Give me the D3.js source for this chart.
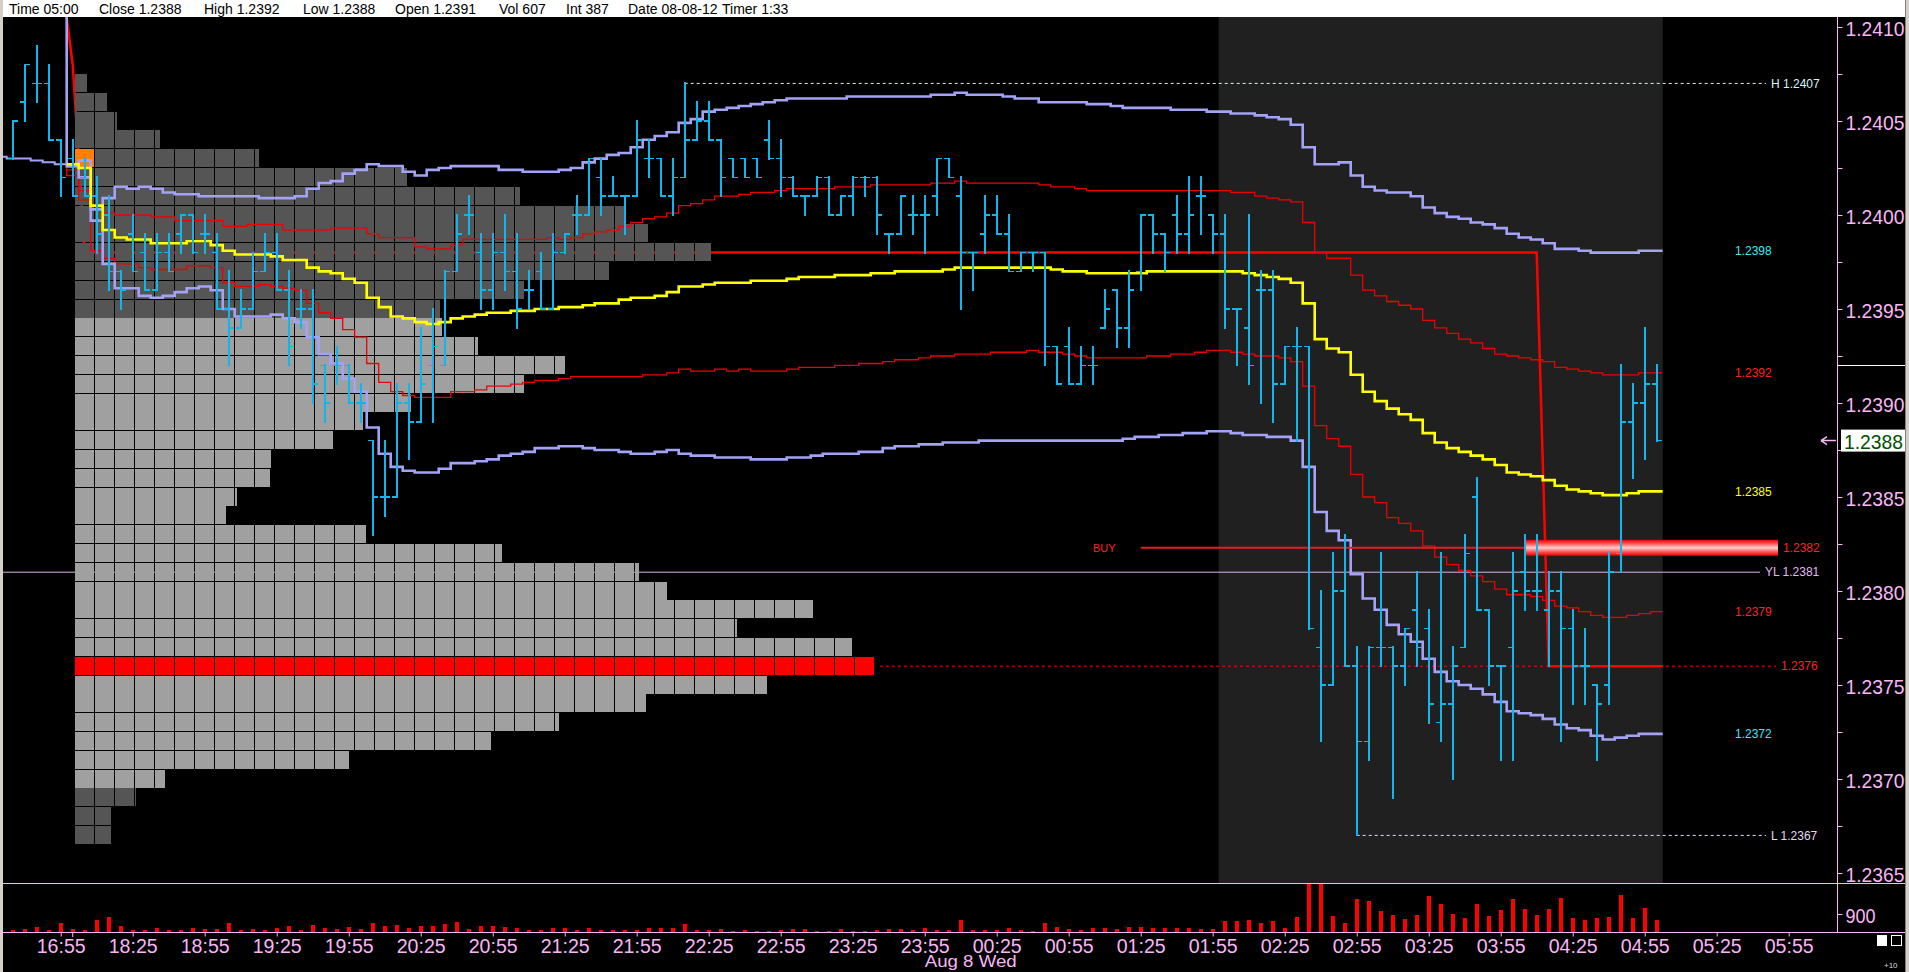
<!DOCTYPE html>
<html>
<head>
<meta charset="utf-8">
<title>Aug 8 - 5 min</title>
<script src="https://cdn.jsdelivr.net/npm/d3@7/dist/d3.min.js"></script>
<style>
  body { margin: 0; background: #000; overflow: hidden; }
  svg { display: block; font-family: "Liberation Sans", Arial, sans-serif; }
</style>
</head>
<body>
<div class="mainChart"></div>
<script>
// ---------------- data ----------------
const headerFields = ['Time 05:00', 'Close 1.2388', 'High 1.2392', 'Low 1.2388', 'Open 1.2391',
  'Vol 607', 'Int 387', 'Date 08-08-12', 'Timer 1:33'];

// 5 min bars, index 0 = 16:55, index 1 = 18:00 (session open), index 133 = 05:00
const barStart = -4;
const opens = [
  1.2403, 1.2406, 1.2407, 1.2407,
  1.2404, 1.2403, 1.2402, 1.2401, 1.2400, 1.2397, 1.2399, 1.2398, 1.2396, 1.2398,
  1.2399, 1.2400, 1.2399, 1.2398, 1.2395, 1.2394, 1.2395, 1.2397, 1.2398, 1.2396,
  1.2395, 1.2395, 1.2392, 1.2392, 1.2392, 1.2390, 1.2388, 1.2385, 1.2385, 1.2390,
  1.2389, 1.2392, 1.2392, 1.2397, 1.2400, 1.2398, 1.2396, 1.2398, 1.2397, 1.2396,
  1.2397, 1.2395, 1.2398, 1.2400, 1.2400, 1.2402, 1.2401, 1.2401, 1.2401, 1.2403,
  1.2403, 1.2401, 1.2402, 1.2404, 1.2405, 1.2404, 1.2403, 1.2403, 1.2403, 1.2404,
  1.2403, 1.2402, 1.2401, 1.2401, 1.2402, 1.2400, 1.2401, 1.2402, 1.2402, 1.2399,
  1.2399, 1.2400, 1.2400, 1.2401, 1.2403, 1.2401, 1.2398, 1.2399, 1.2400, 1.2399,
  1.2397, 1.2398, 1.2398, 1.2393, 1.2393, 1.2391, 1.2392, 1.2394, 1.2396, 1.2394,
  1.2397, 1.2400, 1.2399, 1.2400, 1.2399, 1.2401, 1.2400, 1.2399, 1.2395, 1.2394,
  1.2396, 1.2396, 1.2391, 1.2393, 1.2393, 1.2377, 1.2375, 1.2380, 1.2376, 1.2372,
  1.2377, 1.2377, 1.2376, 1.2379, 1.2378, 1.2373, 1.2374, 1.2377, 1.2385, 1.2379,
  1.2376, 1.2377, 1.2381, 1.2380, 1.2379, 1.2380, 1.2378, 1.2376, 1.2375, 1.2375,
  1.2382, 1.2389, 1.2390, 1.2391];
const highs = [
  1.2405, 1.2408, 1.2409, 1.2408,
  1.2404, 1.2404, 1.2403, 1.2402, 1.2401, 1.2397, 1.2400, 1.2399, 1.2399, 1.2399,
  1.2400, 1.2400, 1.2400, 1.2399, 1.2397, 1.2396, 1.2398, 1.2399, 1.2399, 1.2397,
  1.2396, 1.2396, 1.2392, 1.2393, 1.2392, 1.2391, 1.2388, 1.2388, 1.2391, 1.2391,
  1.2394, 1.2395, 1.2397, 1.2400, 1.2401, 1.2399, 1.2399, 1.2400, 1.2399, 1.2397,
  1.2398, 1.2399, 1.2399, 1.2401, 1.2403, 1.2403, 1.2402, 1.2401, 1.2405, 1.2404,
  1.2403, 1.2403, 1.2407, 1.2406, 1.2406, 1.2404, 1.2403, 1.2403, 1.2403, 1.2405,
  1.2404, 1.2402, 1.2401, 1.2402, 1.2402, 1.2401, 1.2402, 1.2402, 1.2402, 1.2399,
  1.2401, 1.2401, 1.2401, 1.2403, 1.2403, 1.2402, 1.2398, 1.2401, 1.2401, 1.2400,
  1.2398, 1.2398, 1.2398, 1.2393, 1.2394, 1.2393, 1.2393, 1.2396, 1.2396, 1.2397,
  1.2400, 1.2400, 1.2399, 1.2401, 1.2402, 1.2402, 1.2400, 1.2400, 1.2395, 1.2400,
  1.2397, 1.2397, 1.2393, 1.2394, 1.2393, 1.2380, 1.2382, 1.2383, 1.2377, 1.2377,
  1.2382, 1.2377, 1.2378, 1.2381, 1.2379, 1.2382, 1.2377, 1.2383, 1.2386, 1.2379,
  1.2376, 1.2382, 1.2383, 1.2383, 1.2381, 1.2381, 1.2379, 1.2378, 1.2375, 1.2382,
  1.2392, 1.2391, 1.2394, 1.2392];
const lows = [
  1.2403, 1.2405, 1.2406, 1.2404,
  1.2401, 1.2401, 1.2401, 1.2398, 1.2396, 1.2395, 1.2397, 1.2396, 1.2396, 1.2397,
  1.2398, 1.2398, 1.2398, 1.2395, 1.2392, 1.2394, 1.2395, 1.2397, 1.2396, 1.2392,
  1.2394, 1.2390, 1.2389, 1.2391, 1.2390, 1.2389, 1.2383, 1.2384, 1.2385, 1.2387,
  1.2389, 1.2389, 1.2392, 1.2397, 1.2399, 1.2395, 1.2395, 1.2396, 1.2394, 1.2395,
  1.2395, 1.2395, 1.2398, 1.2399, 1.2400, 1.2400, 1.2401, 1.2399, 1.2401, 1.2402,
  1.2401, 1.2400, 1.2402, 1.2404, 1.2404, 1.2401, 1.2402, 1.2402, 1.2402, 1.2403,
  1.2401, 1.2401, 1.2400, 1.2401, 1.2400, 1.2400, 1.2400, 1.2401, 1.2399, 1.2398,
  1.2399, 1.2399, 1.2398, 1.2400, 1.2402, 1.2395, 1.2396, 1.2398, 1.2399, 1.2397,
  1.2397, 1.2397, 1.2392, 1.2391, 1.2391, 1.2391, 1.2391, 1.2394, 1.2393, 1.2393,
  1.2396, 1.2398, 1.2397, 1.2398, 1.2398, 1.2399, 1.2398, 1.2394, 1.2392, 1.2391,
  1.2390, 1.2389, 1.2391, 1.2388, 1.2378, 1.2372, 1.2375, 1.2376, 1.2367, 1.2371,
  1.2376, 1.2369, 1.2375, 1.2376, 1.2373, 1.2372, 1.2370, 1.2377, 1.2379, 1.2375,
  1.2371, 1.2371, 1.2379, 1.2379, 1.2376, 1.2372, 1.2374, 1.2374, 1.2371, 1.2374,
  1.2381, 1.2386, 1.2387, 1.2388];
const closes = [
  1.2405, 1.2408, 1.2407, 1.2404,
  1.2402, 1.2401, 1.2401, 1.2399, 1.2397, 1.2396, 1.2397, 1.2396, 1.2398, 1.2397,
  1.2400, 1.2398, 1.2399, 1.2395, 1.2394, 1.2395, 1.2397, 1.2398, 1.2396, 1.2393,
  1.2395, 1.2391, 1.2390, 1.2392, 1.2390, 1.2390, 1.2385, 1.2385, 1.2390, 1.2389,
  1.2391, 1.2393, 1.2397, 1.2399, 1.2400, 1.2396, 1.2398, 1.2397, 1.2395, 1.2396,
  1.2395, 1.2398, 1.2399, 1.2400, 1.2403, 1.2401, 1.2401, 1.2401, 1.2404, 1.2403,
  1.2401, 1.2402, 1.2404, 1.2405, 1.2404, 1.2402, 1.2402, 1.2402, 1.2402, 1.2403,
  1.2402, 1.2401, 1.2401, 1.2402, 1.2400, 1.2401, 1.2402, 1.2402, 1.2400, 1.2399,
  1.2401, 1.2400, 1.2400, 1.2403, 1.2402, 1.2398, 1.2398, 1.2400, 1.2399, 1.2397,
  1.2398, 1.2398, 1.2393, 1.2391, 1.2391, 1.2392, 1.2392, 1.2395, 1.2394, 1.2396,
  1.2400, 1.2399, 1.2398, 1.2399, 1.2400, 1.2401, 1.2399, 1.2395, 1.2395, 1.2392,
  1.2396, 1.2391, 1.2393, 1.2393, 1.2378, 1.2375, 1.2380, 1.2376, 1.2372, 1.2377,
  1.2377, 1.2376, 1.2378, 1.2377, 1.2374, 1.2374, 1.2376, 1.2382, 1.2379, 1.2376,
  1.2376, 1.2380, 1.2380, 1.2380, 1.2380, 1.2378, 1.2376, 1.2376, 1.2374, 1.2381,
  1.2389, 1.2390, 1.2391, 1.2388];
const volumes = [
  100, 150, 250, 100,
  450, 150, 100, 600, 770, 320, 100, 100, 200, 100,
  100, 200, 150, 150, 450, 100, 150, 100, 200, 300,
  100, 350, 200, 150, 250, 150, 450, 300, 350, 200,
  300, 300, 400, 500, 150, 300, 300, 250, 200, 100,
  100, 220, 180, 120, 220, 120, 80, 120, 120, 200,
  220, 220, 380, 80, 100, 150, 30, 100, 50, 50,
  100, 150, 150, 50, 50, 150, 50, 50, 100, 150,
  150, 100, 200, 100, 100, 600, 100, 100, 100, 200,
  100, 50, 450, 250, 150, 100, 200, 200, 150, 250,
  250, 200, 200, 200, 200, 150, 150, 550, 550, 600,
  450, 550, 200, 750, 2800, 2800, 800, 450, 1650, 1550,
  1050, 850, 650, 850, 1800, 1400, 900, 700, 1400, 800,
  1100, 1650, 1150, 850, 1150, 1700, 700, 600, 700, 750,
  1850, 700, 1200, 607];

// time axis (bar index of each label)
const timeTickIdx = [0, 6, 12, 18, 24, 30, 36, 42, 48, 54, 60, 66, 72, 78, 84, 90, 96, 102, 108, 114, 120, 126, 132, 138, 144];
const timeTickLabels = ['16:55', '18:25', '18:55', '19:25', '19:55', '20:25', '20:55', '21:25', '21:55', '22:25',
  '22:55', '23:25', '23:55', '00:25', '00:55', '01:25', '01:55', '02:25', '02:55', '03:25', '03:55', '04:25',
  '04:55', '05:25', '05:55'];
const sessionOpenIdx = 1;
const dateLabel = 'Aug 8 Wed';
const dateLabelIdx = 72;

// price axis
const priceLabels = [1.2410, 1.2405, 1.2400, 1.2395, 1.2390, 1.2385, 1.2380, 1.2375, 1.2370, 1.2365];
const priceMinor = [1.24075, 1.24025, 1.23975, 1.23925, 1.23875, 1.23825, 1.23775, 1.23725, 1.23675];
const volumeLabels = [900];

// overnight session shading (02:00 - 05:00 bars)
const shadeFrom = 97, shadeTo = 133;

// VWAP and deviation bands, one value per bar
const bandStart = 1;          // vwap, lower bands start at 18:00
const upperStart = 0;         // upper bands enter from above the chart
const upperOuter = [
  1.2415,
  1.24026, 1.24029, 1.24003, 1.24009, 1.24015, 1.24014, 1.24015, 1.24014, 1.24012, 1.24011,
  1.24011, 1.24010, 1.24010, 1.24010, 1.24010, 1.24010, 1.24009, 1.24009, 1.24009, 1.24010,
  1.24014, 1.24017, 1.24018, 1.24022, 1.24024, 1.24027, 1.24026, 1.24026, 1.24023, 1.24021,
  1.24024, 1.24025, 1.24026, 1.24026, 1.24026, 1.24026, 1.24024, 1.24024, 1.24023, 1.24023,
  1.24023, 1.24024, 1.24025, 1.24028, 1.24030, 1.24032, 1.24033, 1.24036, 1.24040, 1.24042,
  1.24044, 1.24049, 1.24051, 1.24055, 1.24056, 1.24057, 1.24058, 1.24059, 1.24060, 1.24061,
  1.24062, 1.24062, 1.24062, 1.24062, 1.24062, 1.24063, 1.24063, 1.24063, 1.24063, 1.24063,
  1.24063, 1.24063, 1.24064, 1.24064, 1.24065, 1.24064, 1.24064, 1.24064, 1.24063, 1.24062,
  1.24062, 1.24060, 1.24060, 1.24060, 1.24060, 1.24059, 1.24059, 1.24058, 1.24057, 1.24057,
  1.24057, 1.24057, 1.24056, 1.24056, 1.24056, 1.24055, 1.24055, 1.24054, 1.24054, 1.24053,
  1.24052, 1.24051, 1.24048, 1.24036, 1.24027, 1.24027, 1.24028, 1.24021, 1.24015, 1.24013,
  1.24012, 1.24012, 1.24010, 1.24004, 1.24001, 1.23999, 1.23998, 1.23996, 1.23995, 1.23993,
  1.23990, 1.23988, 1.23987, 1.23985, 1.23982, 1.23982, 1.23981, 1.23980, 1.23980, 1.23980,
  1.23980, 1.23981, 1.23981];
const upperInner = [
  1.2415,
  1.24021, 1.24013, 1.24005, 1.24001, 1.24000, 1.24000, 1.24000, 1.23999, 1.23999, 1.23997,
  1.23997, 1.23997, 1.23997, 1.23994, 1.23994, 1.23995, 1.23995, 1.23995, 1.23992, 1.23992,
  1.23992, 1.23992, 1.23993, 1.23993, 1.23993, 1.23990, 1.23988, 1.23988, 1.23988, 1.23983,
  1.23982, 1.23982, 1.23984, 1.23987, 1.23987, 1.23987, 1.23987, 1.23987, 1.23987, 1.23987,
  1.23988, 1.23987, 1.23988, 1.23990, 1.23991, 1.23992, 1.23994, 1.23996, 1.23998, 1.23999,
  1.24001, 1.24005, 1.24006, 1.24008, 1.24010, 1.24010, 1.24011, 1.24012, 1.24012, 1.24013,
  1.24014, 1.24014, 1.24014, 1.24014, 1.24015, 1.24015, 1.24015, 1.24016, 1.24016, 1.24016,
  1.24016, 1.24016, 1.24017, 1.24017, 1.24018, 1.24017, 1.24017, 1.24017, 1.24017, 1.24017,
  1.24017, 1.24016, 1.24015, 1.24015, 1.24014, 1.24013, 1.24013, 1.24013, 1.24013, 1.24013,
  1.24013, 1.24013, 1.24013, 1.24013, 1.24013, 1.24013, 1.24013, 1.24012, 1.24012, 1.24010,
  1.24009, 1.24008, 1.24007, 1.23996, 1.23980, 1.23977, 1.23977, 1.23968, 1.23960, 1.23957,
  1.23954, 1.23952, 1.23950, 1.23944, 1.23940, 1.23937, 1.23934, 1.23932, 1.23929, 1.23926,
  1.23925, 1.23924, 1.23923, 1.23922, 1.23919, 1.23918, 1.23917, 1.23916, 1.23915, 1.23915,
  1.23915, 1.23916, 1.23916];
const vwap = [
  1.24027, 1.24025, 1.24005, 1.23992, 1.23988, 1.23987, 1.23987, 1.23985, 1.23985, 1.23985,
  1.23986, 1.23986, 1.23984, 1.23981, 1.23979, 1.23979, 1.23979, 1.23978, 1.23976, 1.23976,
  1.23972, 1.23970, 1.23969, 1.23966, 1.23964, 1.23956, 1.23951, 1.23946, 1.23945, 1.23943,
  1.23942, 1.23943, 1.23945, 1.23946, 1.23947, 1.23948, 1.23948, 1.23949, 1.23949, 1.23950,
  1.23950, 1.23951, 1.23951, 1.23952, 1.23953, 1.23953, 1.23955, 1.23956, 1.23956, 1.23957,
  1.23959, 1.23962, 1.23962, 1.23963, 1.23964, 1.23964, 1.23964, 1.23965, 1.23965, 1.23965,
  1.23966, 1.23967, 1.23967, 1.23967, 1.23968, 1.23968, 1.23968, 1.23969, 1.23969, 1.23970,
  1.23970, 1.23970, 1.23970, 1.23971, 1.23972, 1.23972, 1.23972, 1.23972, 1.23972, 1.23972,
  1.23972, 1.23972, 1.23971, 1.23970, 1.23970, 1.23969, 1.23969, 1.23969, 1.23969, 1.23969,
  1.23970, 1.23970, 1.23970, 1.23970, 1.23970, 1.23970, 1.23970, 1.23970, 1.23969, 1.23968,
  1.23967, 1.23966, 1.23964, 1.23953, 1.23934, 1.23929, 1.23927, 1.23915, 1.23906, 1.23901,
  1.23897, 1.23894, 1.23891, 1.23884, 1.23879, 1.23876, 1.23874, 1.23872, 1.23870, 1.23867,
  1.23863, 1.23862, 1.23861, 1.23859, 1.23856, 1.23854, 1.23853, 1.23852, 1.23851, 1.23851,
  1.23852, 1.23853, 1.23853];
const lowerInner = [
  1.24024, 1.24008, 1.23981, 1.23977, 1.23974, 1.23974, 1.23972, 1.23971, 1.23971, 1.23971,
  1.23973, 1.23973, 1.23972, 1.23964, 1.23962, 1.23962, 1.23963, 1.23962, 1.23961, 1.23960,
  1.23953, 1.23948, 1.23945, 1.23939, 1.23935, 1.23921, 1.23911, 1.23906, 1.23904, 1.23903,
  1.23903, 1.23903, 1.23906, 1.23906, 1.23907, 1.23909, 1.23909, 1.23910, 1.23911, 1.23912,
  1.23912, 1.23913, 1.23914, 1.23914, 1.23914, 1.23914, 1.23914, 1.23914, 1.23915, 1.23915,
  1.23916, 1.23918, 1.23917, 1.23917, 1.23918, 1.23917, 1.23918, 1.23917, 1.23917, 1.23917,
  1.23918, 1.23919, 1.23919, 1.23919, 1.23920, 1.23920, 1.23921, 1.23921, 1.23922, 1.23923,
  1.23923, 1.23924, 1.23925, 1.23925, 1.23926, 1.23926, 1.23926, 1.23927, 1.23927, 1.23927,
  1.23928, 1.23927, 1.23927, 1.23926, 1.23925, 1.23924, 1.23924, 1.23924, 1.23924, 1.23924,
  1.23925, 1.23925, 1.23926, 1.23926, 1.23927, 1.23928, 1.23928, 1.23927, 1.23926, 1.23925,
  1.23925, 1.23924, 1.23922, 1.23909, 1.23888, 1.23881, 1.23877, 1.23862, 1.23850, 1.23847,
  1.23839, 1.23836, 1.23832, 1.23824, 1.23818, 1.23814, 1.23811, 1.23808, 1.23805, 1.23801,
  1.23798, 1.23798, 1.23797, 1.23795, 1.23792, 1.23791, 1.23789, 1.23787, 1.23786, 1.23786,
  1.23787, 1.23788, 1.23789];
const lowerOuter = [
  1.24026, 1.24020, 1.23997, 1.23974, 1.23961, 1.23961, 1.23957, 1.23956, 1.23957, 1.23959,
  1.23961, 1.23962, 1.23960, 1.23950, 1.23946, 1.23946, 1.23946, 1.23947, 1.23945, 1.23943,
  1.23935, 1.23926, 1.23921, 1.23913, 1.23906, 1.23887, 1.23873, 1.23866, 1.23864, 1.23863,
  1.23863, 1.23865, 1.23868, 1.23868, 1.23869, 1.23870, 1.23872, 1.23873, 1.23874, 1.23876,
  1.23876, 1.23877, 1.23877, 1.23876, 1.23875, 1.23875, 1.23874, 1.23873, 1.23873, 1.23874,
  1.23875, 1.23873, 1.23872, 1.23872, 1.23871, 1.23871, 1.23871, 1.23870, 1.23870, 1.23870,
  1.23871, 1.23871, 1.23872, 1.23873, 1.23873, 1.23873, 1.23874, 1.23874, 1.23876, 1.23877,
  1.23877, 1.23878, 1.23878, 1.23879, 1.23879, 1.23879, 1.23880, 1.23880, 1.23880, 1.23880,
  1.23880, 1.23880, 1.23880, 1.23880, 1.23880, 1.23880, 1.23880, 1.23880, 1.23881, 1.23882,
  1.23882, 1.23883, 1.23883, 1.23884, 1.23884, 1.23885, 1.23885, 1.23884, 1.23883, 1.23883,
  1.23882, 1.23882, 1.23880, 1.23866, 1.23842, 1.23832, 1.23827, 1.23809, 1.23796, 1.23790,
  1.23782, 1.23777, 1.23773, 1.23764, 1.23757, 1.23752, 1.23750, 1.23748, 1.23745, 1.23741,
  1.23736, 1.23735, 1.23734, 1.23732, 1.23729, 1.23727, 1.23726, 1.23723, 1.23721, 1.23722,
  1.23723, 1.23724, 1.23724];
// tail of the previous session's upper band
const priorStart = -5;
const priorUpper = [1.24031, 1.24030, 1.24030, 1.24029, 1.24028, 1.24027];

// developing point of control
const pocIdx = [0, 1, 2, 123, 124, 133];
const pocPrice = [1.2413, 1.2408, 1.2398, 1.2398, 1.2376, 1.2376];

// previous session volume profile (size in blocks per price level)
const profileLevels = [1.2407, 1.2406, 1.2405, 1.2404, 1.2403, 1.2402, 1.2401, 1.2400, 1.2399, 1.2398,
  1.2397, 1.2396, 1.2395, 1.2394, 1.2393, 1.2392, 1.2391, 1.2390, 1.2389, 1.2388,
  1.2387, 1.2386, 1.2385, 1.2384, 1.2383, 1.2382, 1.2381, 1.2380, 1.2379, 1.2378,
  1.2377, 1.2376, 1.2375, 1.2374, 1.2373, 1.2372, 1.2371, 1.2370, 1.2369, 1.2368, 1.2367];
const profileSize = [0.65, 1.65, 2.15, 4.3, 9.25, 16.65, 22.3, 27.6, 28.7, 31.85,
  26.75, 22.5, 18.3, 18.4, 20.2, 24.55, 22.5, 16.85, 14.45, 12.95,
  9.85, 9.8, 8.15, 7.6, 14.6, 21.4, 28.25, 29.65, 36.95, 33.15,
  38.9, 40, 34.65, 28.6, 24.25, 20.85, 13.75, 4.55, 3.1, 1.85, 1.85];
const profilePoc = 1.2376, valueAreaHigh = 1.2394, valueAreaLow = 1.2370, profileOpen = 1.2403;

// reference levels
const dayHigh = 1.2407, dayHighIdx = 52;
const dayLow = 1.2367, dayLowIdx = 108;
const yesterdayLow = 1.2381;
const buyPrice = 1.23823, buyIdx = 90, buyGlowIdx = 122;
const lastPrice = 1.2388, barHigh = 1.2392;

// ---------------- drawing ----------------
const W = 1909, H = 972;
const leftX = 3, rightX = 1905, axisX = 1837;
const plotTop = 17, plotBottom = 883, volBottom = 932;
const pink = '#f8b6f4', lav = '#a2a2f6', barBlue = '#10b6ee';

const x = d3.scaleLinear().domain([0, 1]).range([60.7, 72.7]);
const y = d3.scaleLinear().domain([1.2410, 1.2365]).range([27, 873]);
const yVol = d3.scaleLinear().domain([0, 900]).range([volBottom, 914]);
const px = d3.scaleLinear().domain([0, 1]).range([75, 95]);

const svg = d3.select('.mainChart').append('svg')
  .attr('width', W).attr('height', H)
  .style('background', '#000');

const defs = svg.append('defs');
defs.append('clipPath').attr('id', 'plotClip').append('rect')
  .attr('x', leftX).attr('y', plotTop).attr('width', axisX - leftX).attr('height', plotBottom - plotTop);
defs.append('clipPath').attr('id', 'volClip').append('rect')
  .attr('x', leftX).attr('y', plotBottom + 1).attr('width', axisX - leftX).attr('height', volBottom - plotBottom - 1);
let grad = defs.append('linearGradient').attr('id', 'buyGlow')
  .attr('x1', 0).attr('x2', 0).attr('y1', 0).attr('y2', 1);
[[0, '#e80000'], [0.22, '#ff4a4a'], [0.5, '#ffcfcf'], [0.78, '#ff4a4a'], [1, '#e80000']].forEach(s => {
  grad.append('stop').attr('offset', s[0]).attr('stop-color', s[1]);
});

const plot = svg.append('g').attr('clip-path', 'url(#plotClip)');

// overnight shading
plot.append('rect')
  .attr('x', x(shadeFrom - 0.5)).attr('y', plotTop)
  .attr('width', x(shadeTo + 0.5) - x(shadeFrom - 0.5)).attr('height', plotBottom - plotTop)
  .attr('fill', '#202020');

// lines that sit behind the profile
plot.append('line')
  .attr('x1', leftX).attr('x2', 1760).attr('y1', y(yesterdayLow)).attr('y2', y(yesterdayLow))
  .attr('stroke', '#dcb0ec').attr('stroke-width', 1);

let pocPts = pocIdx.map((d, k) => ({ i: d, p: pocPrice[k] }));
pocPts.push({ i: pocIdx[pocIdx.length - 1] + 0.5, p: pocPrice[pocPrice.length - 1] });
plot.append('path').datum(pocPts)
  .attr('d', d3.line().x(d => x(d.i)).y(d => y(d.p)))
  .attr('fill', 'none').attr('stroke', '#ff0000').attr('stroke-width', 2.5);

// previous session profile
const profile = plot.append('g').attr('shape-rendering', 'crispEdges');
profileLevels.forEach((lvl, r) => {
  let size = profileSize[r];
  let color = '#555555';
  if (lvl <= valueAreaHigh + 1e-9 && lvl >= valueAreaLow - 1e-9) color = '#a0a0a0';
  if (Math.abs(lvl - profilePoc) < 1e-9) color = '#ff0000';
  for (let j = 0; j < size; j++) {
    let w = Math.min(1, size - j);
    let fill = color;
    if (j === 0 && Math.abs(lvl - profileOpen) < 1e-9) fill = '#ff8000';
    profile.append('rect')
      .attr('x', Math.round(px(j)))
      .attr('y', Math.round(y(lvl) - 9.4))
      .attr('width', Math.max(1, Math.round(px(j + w) - px(j)) - 1))
      .attr('height', 18)
      .attr('fill', fill);
  }
});
const pocRowEnd = px(profileSize[profileLevels.indexOf(profilePoc)]);

// previous POC extension, high / low lines
plot.append('line')
  .attr('x1', pocRowEnd + 5).attr('x2', 1776).attr('y1', y(profilePoc)).attr('y2', y(profilePoc))
  .attr('stroke', '#ff0000').attr('stroke-width', 1).attr('stroke-dasharray', '3,3');
plot.append('line')
  .attr('x1', x(dayHighIdx)).attr('x2', 1766).attr('y1', y(dayHigh)).attr('y2', y(dayHigh))
  .attr('stroke', '#dff4f4').attr('stroke-width', 1).attr('stroke-dasharray', '3,3');
plot.append('line')
  .attr('x1', x(dayLowIdx)).attr('x2', 1766).attr('y1', y(dayLow)).attr('y2', y(dayLow))
  .attr('stroke', '#eadcf6').attr('stroke-width', 1).attr('stroke-dasharray', '3,3');

// bands
const stepLine = d3.line().x(d => x(d.i)).y(d => y(d.p)).curve(d3.curveStep);
function drawBand(values, start, color, width) {
  let pts = values.map((p, k) => ({ i: start + k, p: p }));
  pts.unshift({ i: start - 0.5, p: values[0] });
  pts.push({ i: start + values.length - 0.5, p: values[values.length - 1] });
  plot.append('path').datum(pts)
    .attr('d', stepLine)
    .attr('fill', 'none').attr('stroke', color).attr('stroke-width', width);
}
drawBand(priorUpper, priorStart, lav, 2);
drawBand(upperInner, upperStart, '#ee0000', 1.3);
drawBand(lowerInner, bandStart, '#ee0000', 1.3);
drawBand(upperOuter, upperStart, lav, 2.6);
drawBand(lowerOuter, bandStart, lav, 2.6);
drawBand(vwap, bandStart, '#ffff00', 2.6);

// buy order line
plot.append('line')
  .attr('x1', x(buyIdx)).attr('x2', 1778).attr('y1', y(buyPrice)).attr('y2', y(buyPrice))
  .attr('stroke', '#e41e1e').attr('stroke-width', 2);
plot.append('rect')
  .attr('x', x(buyGlowIdx)).attr('y', y(buyPrice) - 8)
  .attr('width', 1778 - x(buyGlowIdx)).attr('height', 16)
  .attr('fill', 'url(#buyGlow)');

// OHLC bars
const bars = opens.map((o, k) => ({ i: barStart + k, o: o, h: highs[k], l: lows[k], c: closes[k] }));
let barG = plot.append('g').attr('shape-rendering', 'crispEdges').attr('stroke', barBlue);
barG.selectAll('path.hl').data(bars).enter().append('path')
  .attr('class', 'hl')
  .attr('d', d => 'M' + x(d.i) + ',' + (y(d.h) - 1) + 'V' + (y(d.l) + 1))
  .attr('stroke-width', 2);
barG.selectAll('path.oc').data(bars).enter().append('path')
  .attr('class', 'oc')
  .attr('d', d => 'M' + (x(d.i) - 5) + ',' + y(d.o) + 'H' + x(d.i) + 'M' + x(d.i) + ',' + y(d.c) + 'H' + (x(d.i) + 5))
  .attr('stroke-width', 1.5);

// right hand value labels
const labels = svg.append('g').style('font-size', '12px');
function valueLabel(txt, xx, price, color) {
  labels.append('text').attr('x', xx).attr('y', y(price)).attr('dy', '0.35em')
    .attr('fill', color).text(txt);
}
valueLabel(upperOuter[upperOuter.length - 1].toFixed(4), 1735, upperOuter[upperOuter.length - 1], '#3ee8f2');
valueLabel(upperInner[upperInner.length - 1].toFixed(4), 1735, upperInner[upperInner.length - 1], '#ff2020');
valueLabel(vwap[vwap.length - 1].toFixed(4), 1735, vwap[vwap.length - 1], '#ffff00');
valueLabel(lowerInner[lowerInner.length - 1].toFixed(4), 1735, lowerInner[lowerInner.length - 1], '#ff2020');
valueLabel(lowerOuter[lowerOuter.length - 1].toFixed(4), 1735, lowerOuter[lowerOuter.length - 1], '#3ee8f2');
valueLabel('H ' + dayHigh.toFixed(4), 1771, dayHigh, '#d4f6f6');
valueLabel('L ' + dayLow.toFixed(4), 1771, dayLow, '#e6d8f4');
valueLabel('YL ' + yesterdayLow.toFixed(4), 1765, yesterdayLow, '#e0b8f0');
valueLabel(buyPrice.toFixed(4), 1783, buyPrice, '#ff2020');
valueLabel(profilePoc.toFixed(4), 1781, profilePoc, '#ff2020');
labels.append('text').attr('x', 1093).attr('y', y(buyPrice)).attr('dy', '0.35em')
  .attr('fill', '#ff2020').style('font-size', '11px').text('BUY');

// volume panel
svg.append('g').attr('clip-path', 'url(#volClip)').attr('shape-rendering', 'crispEdges')
  .selectAll('rect').data(volumes).enter().append('rect')
  .attr('x', (d, k) => Math.round(x(barStart + k)) - 2)
  .attr('y', d => yVol(d))
  .attr('width', 4)
  .attr('height', d => volBottom - yVol(d))
  .attr('fill', '#ff0000');

// frame lines
let frame = svg.append('g').attr('stroke', pink).attr('stroke-width', 1).attr('shape-rendering', 'crispEdges');
frame.append('line').attr('x1', leftX).attr('x2', rightX).attr('y1', plotBottom + 0.5).attr('y2', plotBottom + 0.5);
frame.append('line').attr('x1', leftX).attr('x2', rightX).attr('y1', volBottom + 0.5).attr('y2', volBottom + 0.5);
frame.append('line').attr('x1', axisX + 0.5).attr('x2', axisX + 0.5).attr('y1', plotTop).attr('y2', volBottom);

// price axis
let yAxis = d3.axisRight(y)
  .tickValues(priceLabels.concat(priceMinor))
  .tickFormat(d => priceLabels.indexOf(d) >= 0 ? d.toFixed(4) : '')
  .tickSize(5).tickPadding(3);
let yAxisG = svg.append('g').attr('transform', 'translate(' + (axisX + 0.5) + ',0)').call(yAxis);
yAxisG.select('.domain').remove();
yAxisG.selectAll('line').attr('stroke', pink);
yAxisG.selectAll('text').attr('fill', pink).attr('dy', '0.42em')
  .style('font-size', '21px').style('font-family', '"Liberation Sans", Arial, sans-serif')
  .filter(d => priceLabels.indexOf(d) >= 0)
  .attr('textLength', 59).attr('lengthAdjust', 'spacingAndGlyphs');

// volume axis
let vAxisG = svg.append('g').attr('transform', 'translate(' + (axisX + 0.5) + ',0)')
  .call(d3.axisRight(yVol).tickValues(volumeLabels).tickSize(5).tickPadding(3));
vAxisG.select('.domain').remove();
vAxisG.selectAll('line').attr('stroke', pink);
vAxisG.selectAll('text').attr('fill', pink).attr('dy', '0.4em')
  .style('font-size', '21px').style('font-family', '"Liberation Sans", Arial, sans-serif')
  .attr('textLength', 30).attr('lengthAdjust', 'spacingAndGlyphs');

// time axis
let xAxisG = svg.append('g').attr('transform', 'translate(0,' + (volBottom + 0.5) + ')')
  .call(d3.axisBottom(x).tickValues(timeTickIdx).tickFormat((d, k) => timeTickLabels[k]).tickSize(4).tickPadding(2));
xAxisG.select('.domain').remove();
xAxisG.selectAll('line').attr('stroke', pink);
xAxisG.selectAll('text').attr('fill', pink)
  .style('font-size', '20px').style('font-family', '"Liberation Sans", Arial, sans-serif')
  .attr('textLength', 49).attr('lengthAdjust', 'spacingAndGlyphs');
svg.append('line').attr('x1', x(sessionOpenIdx)).attr('x2', x(sessionOpenIdx))
  .attr('y1', volBottom).attr('y2', volBottom + 5).attr('stroke', pink);
// day label under the time labels, kept just inside the bottom edge
svg.append('text').attr('x', x(dateLabelIdx)).attr('y', 967)
  .attr('fill', pink).style('font-size', '16px')
  .attr('textLength', 92).attr('lengthAdjust', 'spacingAndGlyphs')
  .text(dateLabel);

// last price marker
svg.append('line').attr('x1', axisX).attr('x2', rightX)
  .attr('y1', Math.round(y(barHigh)) + 0.5).attr('y2', Math.round(y(barHigh)) + 0.5)
  .attr('stroke', '#ffffff').attr('stroke-width', 1);
svg.append('rect').attr('x', 1841).attr('y', y(lastPrice) - 11).attr('width', rightX - 1841).attr('height', 22)
  .attr('fill', '#ffffff');
svg.append('text').attr('x', 1844).attr('y', y(lastPrice)).attr('dy', '0.38em')
  .attr('fill', '#005000').style('font-size', '21px')
  .attr('textLength', 59).attr('lengthAdjust', 'spacingAndGlyphs')
  .text(lastPrice.toFixed(4));
svg.append('path')
  .attr('d', 'M1821,' + y(lastPrice) + 'H1836M1821,' + y(lastPrice) + 'l6,-4M1821,' + y(lastPrice) + 'l6,4')
  .attr('stroke', pink).attr('stroke-width', 1.5).attr('fill', 'none');

// little panel buttons, bottom right
svg.append('rect').attr('x', 1877).attr('y', 935).attr('width', 10).attr('height', 11).attr('fill', '#fff');
svg.append('rect').attr('x', 1891.5).attr('y', 935.5).attr('width', 10).attr('height', 10)
  .attr('fill', 'none').attr('stroke', '#fff');
svg.append('text').attr('x', 1884).attr('y', 968).attr('fill', '#ddd').style('font-size', '8px').text('+10');

// header strip
svg.append('rect').attr('x', leftX).attr('y', 0).attr('width', rightX - leftX).attr('height', plotTop).attr('fill', '#ffffff');
const headerX = [9, 99, 204, 303, 395, 499, 566, 628, 722];
svg.append('g').selectAll('text').data(headerFields).enter().append('text')
  .attr('x', (d, k) => headerX[k]).attr('y', 14)
  .attr('fill', '#000').style('font-size', '14px')
  .text(d => d);

// window borders
svg.append('rect').attr('x', 0).attr('y', 0).attr('width', leftX).attr('height', H).attr('fill', '#d4d0c8');
svg.append('rect').attr('x', rightX).attr('y', 0).attr('width', W - rightX).attr('height', H).attr('fill', '#d4d0c8');
svg.append('line').attr('x1', rightX + 0.5).attr('x2', rightX + 0.5).attr('y1', 0).attr('y2', H).attr('stroke', '#808080');
</script>
</body>
</html>
